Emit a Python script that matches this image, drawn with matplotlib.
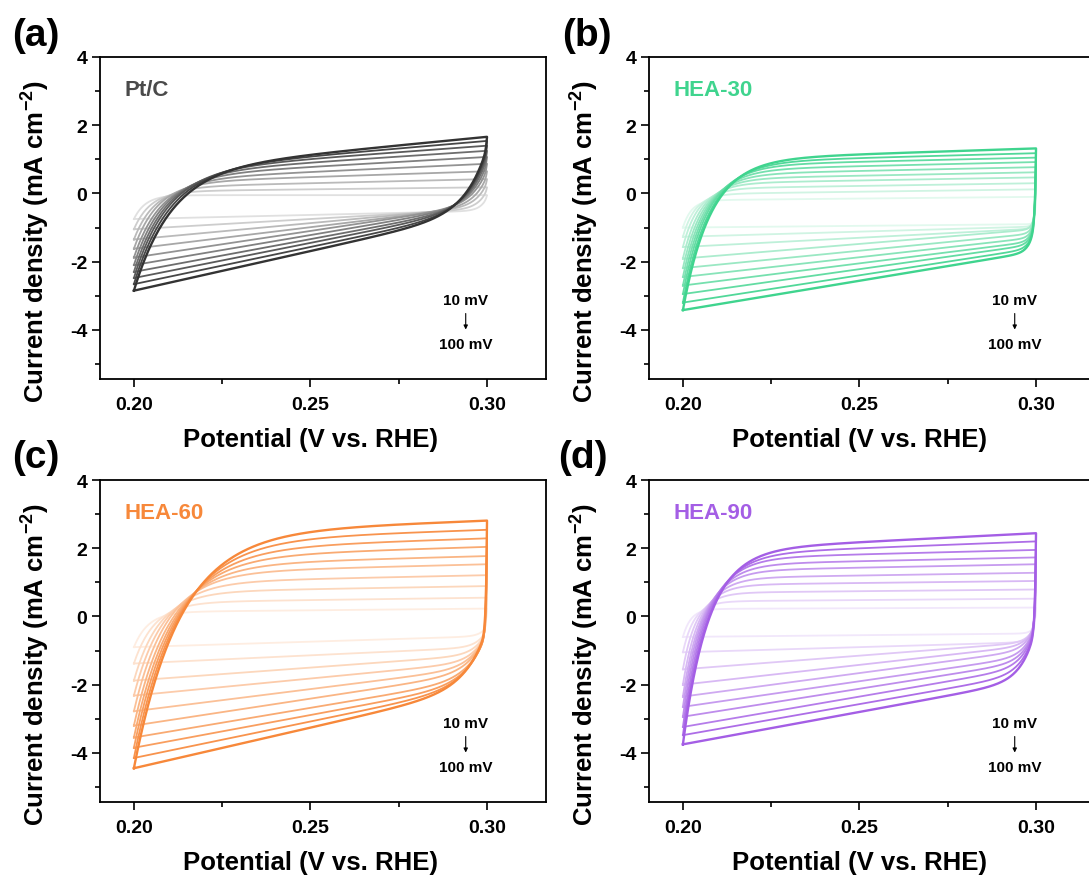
import numpy as np
import matplotlib.pyplot as plt
from matplotlib.ticker import MultipleLocator

plt.rcParams['font.family'] = ['Liberation Sans', 'DejaVu Sans']
plt.rcParams['font.weight'] = 'bold'
plt.rcParams['axes.unicode_minus'] = False
plt.rcParams['mathtext.fontset'] = 'custom'
plt.rcParams['mathtext.rm'] = 'Liberation Sans'
plt.rcParams['mathtext.bf'] = 'Liberation Sans:bold'

# scan rates (mV/s)
rates = [10, 20, 30, 40, 50, 60, 70, 80, 90, 100]

# currents (mA cm-2), one value per scan rate
# top = anodic end at 0.30 V, a25 = anodic at 0.25 V,
# c25 = cathodic at 0.25 V, c20 = cathodic end at 0.20 V
ptc_top = [-0.05, 0.18, 0.42, 0.65, 0.87, 1.07, 1.25, 1.40, 1.54, 1.66]
ptc_a25 = [-0.05, 0.12, 0.30, 0.48, 0.63, 0.78, 0.91, 1.02, 1.10, 1.16]
ptc_c25 = [-0.63, -0.75, -0.87, -0.99, -1.10, -1.22, -1.34, -1.45, -1.57, -1.69]
ptc_c20 = [-0.75, -1.05, -1.35, -1.62, -1.88, -2.10, -2.30, -2.48, -2.66, -2.85]

hea30_top = [-0.10, 0.12, 0.30, 0.47, 0.62, 0.77, 0.92, 1.05, 1.18, 1.32]
hea30_a25 = [-0.15, 0.05, 0.22, 0.38, 0.52, 0.66, 0.80, 0.93, 1.04, 1.15]
hea30_c25 = [-0.95, -1.12, -1.30, -1.48, -1.68, -1.87, -2.05, -2.22, -2.40, -2.56]
hea30_c20 = [-1.00, -1.27, -1.57, -1.91, -2.19, -2.45, -2.70, -2.95, -3.20, -3.42]

hea60_top = [0.23, 0.55, 0.89, 1.21, 1.53, 1.77, 2.04, 2.29, 2.54, 2.81]
hea60_a25 = [0.18, 0.48, 0.80, 1.10, 1.40, 1.63, 1.88, 2.12, 2.37, 2.62]
hea60_c25 = [-0.74, -1.14, -1.50, -1.82, -2.13, -2.41, -2.68, -2.89, -3.08, -3.26]
hea60_c20 = [-0.90, -1.38, -1.88, -2.32, -2.78, -3.20, -3.55, -3.85, -4.15, -4.45]

hea90_top = [0.26, 0.52, 0.79, 1.04, 1.28, 1.53, 1.73, 1.95, 2.20, 2.44]
hea90_a25 = [0.24, 0.48, 0.74, 0.98, 1.20, 1.43, 1.62, 1.82, 2.00, 2.18]
hea90_c25 = [-0.55, -0.90, -1.15, -1.42, -1.66, -1.90, -2.12, -2.35, -2.57, -2.80]
hea90_c20 = [-0.60, -1.05, -1.55, -2.00, -2.35, -2.65, -2.94, -3.24, -3.48, -3.75]

# curve shape per sample: forward/reverse relaxation width (V) at 100 mV, fast drop part
samples = ['Pt/C', 'HEA-30', 'HEA-60', 'HEA-90']
tau_fwd = [0.0105, 0.0078, 0.013, 0.0072]
tau_rev = [0.006, 0.0015, 0.006, 0.0038]
fast_drop = [0.15, 0.68, 0.65, 0.64]

data = [(ptc_top, ptc_a25, ptc_c25, ptc_c20),
        (hea30_top, hea30_a25, hea30_c25, hea30_c20),
        (hea60_top, hea60_a25, hea60_c25, hea60_c20),
        (hea90_top, hea90_a25, hea90_c25, hea90_c20)]

colors = ['#333333', '#3fd48e', '#f7883a', '#a45ee5']
text_colors = ['#4a4a4a', '#3fd48e', '#f7883a', '#a45ee5']
letters = ['(a)', '(b)', '(c)', '(d)']


def cv_loop(top, a25, c25, c20, rate, tf, tr, w):
    E = np.linspace(0.2, 0.3, 400)
    s = np.sqrt(rate / 100)
    ja = a25 + (top - a25) / 0.05 * (E - 0.25)
    jf = ja - (ja[0] - c20) * np.exp(-(E - 0.2) / (tf * s))
    jc = c25 + (c25 - c20) / 0.05 * (E - 0.25)
    d = 0.3 - E
    jr = jc + (top - jc[-1]) * (w * np.exp(-d / 0.0003) + (1 - w) * np.exp(-d / (tr * s)))
    x = np.concatenate([E, E[::-1]])
    y = np.concatenate([jf, jr[::-1]])
    return x, y


def shade(c, f):
    rgb = np.array(plt.matplotlib.colors.to_rgb(c))
    return tuple(1 - f * (1 - rgb))


fig = plt.figure(figsize=(10.89, 8.79), dpi=100)
W, H = 1089, 879
lefts = [100, 649, 100, 649]
tops = [58, 58, 481, 481]
letter_pos = [(12, 36), (562, 36), (12, 458), (558, 458)]

for k in range(4):
    ax = fig.add_axes([lefts[k] / W, 1 - (tops[k] + 322) / H, 446 / W, 322 / H])
    top, a25, c25, c20 = data[k]
    n = len(rates)
    for i in range(n):
        f = 0.15 + 0.85 * i / (n - 1)
        x, y = cv_loop(top[i], a25[i], c25[i], c20[i], rates[i],
                       tau_fwd[k], tau_rev[k], fast_drop[k])
        ax.plot(x, y, color=shade(colors[k], f), lw=1.3 + 0.4 * (i == n - 1))

    ax.set_xlim(0.1904, 0.3167)
    ax.set_ylim(-5.44, 4)
    ax.xaxis.set_major_locator(MultipleLocator(0.05))
    ax.xaxis.set_minor_locator(MultipleLocator(0.025))
    ax.yaxis.set_major_locator(MultipleLocator(2))
    ax.yaxis.set_minor_locator(MultipleLocator(1))
    ax.xaxis.set_major_formatter(plt.FormatStrFormatter('%.2f'))
    ax.tick_params(which='major', direction='out', length=6, width=1.2, labelsize=14, pad=6)
    ax.tick_params(axis='y', which='major', pad=3)
    ax.tick_params(which='minor', direction='out', length=3.5, width=1.2)
    for sp in ax.spines.values():
        sp.set_linewidth(1.3)
    for lab in ax.get_xticklabels() + ax.get_yticklabels():
        lab.set_fontweight('bold')

    ax.set_xlabel('Potential (V vs. RHE)', fontsize=18.5, fontweight='bold')
    ax.set_ylabel('Current density (mA cm$^{-2}$)', fontsize=18.5, fontweight='bold')
    ax.xaxis.set_label_coords(0.473, -0.15)
    ax.yaxis.set_label_coords(-0.11, 0.43)

    ax.text(0.056, 0.90, samples[k], transform=ax.transAxes, fontsize=16,
            fontweight='bold', color=text_colors[k], ha='left', va='center')
    ax.text(0.82, 0.245, '10 mV', transform=ax.transAxes, fontsize=11,
            fontweight='bold', ha='center', va='center')
    ax.text(0.82, 0.11, '100 mV', transform=ax.transAxes, fontsize=11,
            fontweight='bold', ha='center', va='center')
    ax.annotate('', xy=(0.82, 0.145), xytext=(0.82, 0.212), xycoords='axes fraction',
                arrowprops=dict(arrowstyle='-|>', lw=0.8, color='k', mutation_scale=6))

    fig.text(letter_pos[k][0] / W, 1 - letter_pos[k][1] / H, letters[k], fontsize=28,
             fontweight='bold', ha='left', va='center')

fig.savefig('out.png', dpi=100)
